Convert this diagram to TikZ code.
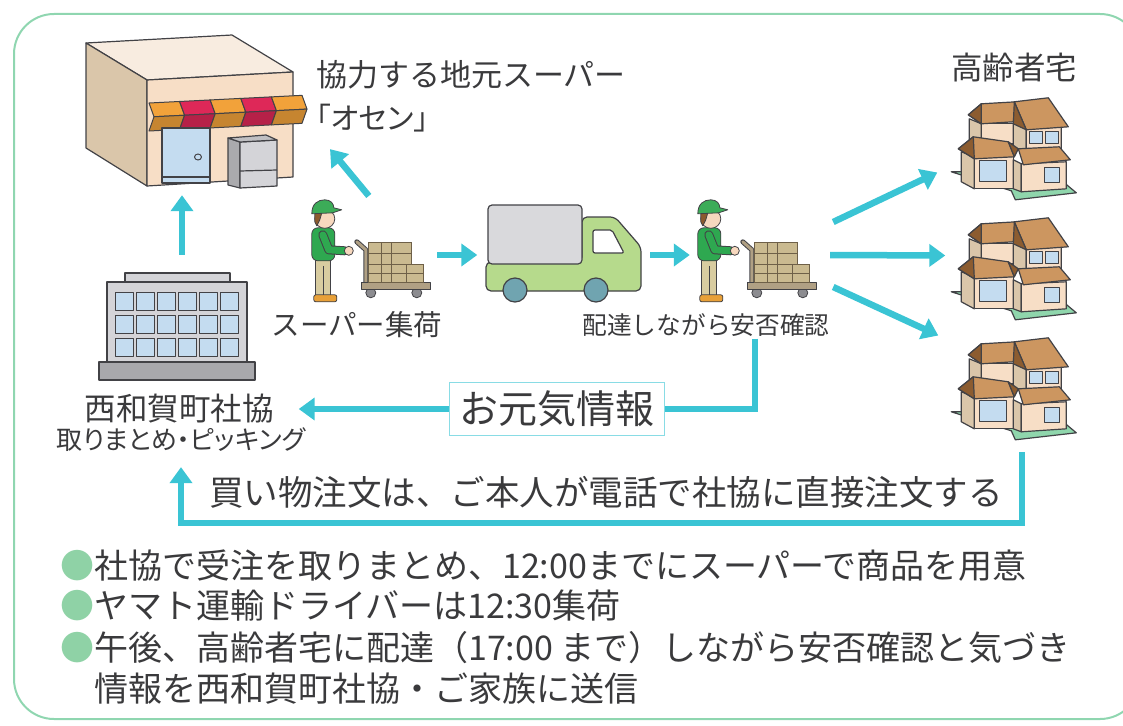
\documentclass[tikz,border=0pt]{standalone}
\usepackage{fontspec}
\setmainfont{Noto Sans CJK JP}
\newfontfamily\propjp{Noto Sans CJK JP}[RawFeature=+palt]
\usepackage{tikz}
\usetikzlibrary{arrows.meta}
\definecolor{Teal}{RGB}{58,196,212}
\definecolor{Mint}{RGB}{143,214,176}
\definecolor{Dot}{RGB}{143,210,166}
\definecolor{Ink}{RGB}{58,58,60}
\definecolor{Edge}{RGB}{66,66,70}
\definecolor{Peach}{RGB}{247,222,198}
\definecolor{Tan}{RGB}{218,198,170}
\definecolor{Cream}{RGB}{248,236,224}
\definecolor{Glass}{RGB}{196,220,240}
\definecolor{Roof}{RGB}{204,150,96}
\definecolor{RoofDark}{RGB}{140,92,48}
\definecolor{Lawn}{RGB}{143,214,172}
\definecolor{Shirt}{RGB}{46,168,80}
\definecolor{Cap}{RGB}{60,172,88}
\definecolor{Khaki}{RGB}{216,204,160}
\definecolor{Shoe}{RGB}{232,160,56}
\definecolor{Skin}{RGB}{247,216,190}
\definecolor{Hair}{RGB}{140,90,45}
\definecolor{Crate}{RGB}{202,186,144}
\definecolor{CrateLine}{RGB}{110,96,72}
\definecolor{Cart}{RGB}{176,160,132}
\definecolor{Wheel}{RGB}{140,140,144}
\definecolor{Cargo}{RGB}{217,217,220}
\definecolor{Lime}{RGB}{182,218,140}
\definecolor{Tyre}{RGB}{112,164,176}
\definecolor{Concrete}{RGB}{212,212,216}
\definecolor{Plinth}{RGB}{168,168,172}
\definecolor{AwnOrange}{RGB}{242,162,58}
\definecolor{AwnRed}{RGB}{222,40,88}

\tikzset{
  ink/.style={draw=Edge, line width=1.2pt, line join=round},
  % delivery staff pushing a loaded cart
  worker/.pic={
    \draw[Edge, line width=5pt, line cap=round, line join=round] (46,42) -- (55,50) -- (55,87);
    \draw[Cart, line width=3pt, line cap=round, line join=round] (46,42) -- (55,50) -- (55,87);
    \foreach \wx in {60,106}
      \filldraw[ink, line width=0.8pt, fill=Wheel] (\wx,93) circle (5);
    \filldraw[ink, line width=0.8pt, fill=Cart] (51,83) rectangle (120,90);
    \filldraw[draw=CrateLine, line width=0.8pt, fill=Crate] (58,43) rectangle (101,65);
    \filldraw[draw=CrateLine, line width=0.8pt, fill=Crate] (58,65) rectangle (113,83);
    \draw[CrateLine, line width=0.8pt] (71,43) -- (71,83) (81,43) -- (81,83) (96,65) -- (96,83)
      (58,54) -- (101,54) (58,74) -- (113,74);
    \filldraw[ink, line width=0.8pt, fill=Khaki] (5,58) rectangle (20,96);
    \draw[Edge, line width=0.8pt] (12.5,66) -- (12.5,96);
    \filldraw[ink, line width=0.8pt, fill=Shoe, rounded corners=2pt] (3,95) rectangle (26,102);
    \filldraw[ink, line width=0.8pt, fill=Shirt, rounded corners=6pt] (1,28) rectangle (24,61);
    \draw[Edge, line width=9pt, line cap=round, line join=round] (12,35) -- (18,50) -- (34,51);
    \draw[Shirt, line width=7pt, line cap=round, line join=round] (12,35) -- (18,50) -- (34,51);
    \filldraw[ink, line width=0.8pt, fill=Skin] (38,51) circle (4.5);
    \filldraw[ink, line width=0.8pt, fill=Skin] (14,19) ellipse (10 and 9.5);
    \filldraw[ink, line width=0.8pt, fill=Hair] (4,13) -- (11,13) -- (9,20) -- (6,26) -- (4,22) -- cycle;
    \filldraw[ink, line width=0.8pt, fill=Cap] (1,14) .. controls (1,4) and (7,0) .. (14,0)
      .. controls (20,0) and (23,4) .. (23,8) -- (31,10) -- (22,13) -- cycle;
  },
  % two-storey house on a lawn
  house/.pic={
    \filldraw[ink, fill=Lawn] (0,75) -- (60,94) -- (64,103) -- (125,96) -- (113,86) -- (60,74) -- cycle;
    \filldraw[ink, fill=Tan] (10,55) -- (23,60) -- (23,92) -- (10,85) -- cycle;
    \filldraw[ink, fill=Peach] (23,60) -- (62,60) -- (62,92) -- (23,92) -- cycle;
    \filldraw[ink, fill=Glass] (28,64) rectangle (55,85);
    \filldraw[ink, fill=Tan] (62,63) -- (70,67) -- (70,95) -- (62,92) -- cycle;
    \filldraw[ink, fill=Peach] (70,67) -- (115,65) -- (115,92) -- (70,95) -- cycle;
    \filldraw[ink, fill=Glass] (93,71) rectangle (108,86);
    \filldraw[ink, fill=Tan] (18,22) -- (30,27) -- (30,47) -- (18,43) -- cycle;
    \filldraw[ink, fill=Peach] (30,27) -- (62,27) -- (62,47) -- (30,47) -- cycle;
    \filldraw[ink, fill=Tan] (62,25) -- (75,32) -- (75,57) -- (62,50) -- cycle;
    \filldraw[ink, fill=Peach] (75,32) -- (110,30) -- (110,55) -- (75,57) -- cycle;
    \filldraw[ink, fill=Glass] (78,35) rectangle (91,47);
    \filldraw[ink, fill=Glass] (94,35) rectangle (107,47);
    \filldraw[ink, fill=Roof] (7,52) -- (22,40) -- (57,45) -- (63,60) -- (23,62) -- cycle;
    \filldraw[ink, fill=RoofDark] (7,52) -- (22,40) -- (23,62) -- cycle;
    \filldraw[ink, fill=RoofDark] (57,45) -- (67,52) -- (63,60) -- cycle;
    \filldraw[ink, fill=Roof] (67,52) -- (108,50) -- (119,63) -- (72,68) -- cycle;
    \filldraw[ink, fill=Roof] (17,18) -- (30,7) -- (65,5) -- (62,25) -- (30,27) -- cycle;
    \filldraw[ink, fill=RoofDark] (17,18) -- (30,7) -- (30,27) -- cycle;
    \filldraw[ink, fill=Roof] (63,5) -- (97,1) -- (117,30) -- (75,33) -- cycle;
    \filldraw[ink, fill=RoofDark] (63,5) -- (75,33) -- (62,27) -- cycle;
  }
}

\begin{document}
\begin{tikzpicture}[
  x=1pt, y=-1pt,
  spot/.style 2 args={inner sep=0pt, minimum width=#1, minimum height=#2},
  lbl/.style={text=Ink, inner sep=0pt},
  note/.style={text=Ink, inner sep=0pt, anchor=west, font=\fontsize{34}{38}\selectfont},
  flow/.style={draw=Teal, line width=6.5pt, -{Triangle[length=16pt,width=22pt]}},
  tag/.style={draw=Teal!60, line width=1.3pt, fill=white, text=Ink, inner xsep=10pt,
    minimum height=53pt, font=\fontsize{39}{44}\selectfont}
]
\useasboundingbox (0,0) rectangle (1123,725);
\draw[Mint, line width=2pt, rounded corners=40pt] (14,14) rectangle (1140,719);

% anchors for the connectors
\node[spot={216}{152}] (store) at (194,111) {};
\node[spot={160}{107}] (office) at (182,326.5) {};
\node[spot={122}{110}] (picker) at (372,255) {};
\node[spot={155}{96}] (truck) at (564,255) {};
\node[spot={122}{110}] (driver) at (758,255) {};
\node[spot={125}{103}] (h1) at (1014,148.5) {};
\node[spot={125}{103}] (h2) at (1014,268.5) {};
\node[spot={125}{103}] (h3) at (1014,388.5) {};

% supermarket
\filldraw[ink, fill=Cream] (86,43) -- (232,35) -- (293,72) -- (147,80) -- cycle;
\filldraw[ink, fill=Tan] (86,43) -- (147,80) -- (147,186) -- (86,148) -- cycle;
\filldraw[ink, fill=Peach] (147,80) -- (293,72) -- (293,177) -- (147,186) -- cycle;
\begin{scope}[shift={(149,0)}, yslant=0.05]
  \foreach \i/\c in {0/AwnOrange,1/AwnRed,2/AwnOrange,3/AwnRed,4/AwnOrange}{
    \filldraw[ink, line width=1pt, fill=\c] (30.6*\i,103) -- (30.6*\i+30.6,103)
      -- (30.6*\i+35.6,117) -- (30.6*\i+5,117) -- cycle;
    \filldraw[ink, line width=1pt, fill=\c!82!black] (30.6*\i+5,117) -- (30.6*\i+35.6,117)
      -- (30.6*\i+30.6,131) -- (30.6*\i,131) -- cycle;
  }
\end{scope}
\filldraw[ink, fill=Glass] (162,128) rectangle (210,183);
\draw[ink] (162,177) -- (210,177);
\filldraw[ink, line width=1pt, fill=Glass] (198,157) ellipse (3.5 and 3);
\filldraw[ink, fill=Concrete!80!black] (228,138) -- (240,142) -- (240,188) -- (228,185) -- cycle;
\filldraw[ink, fill=Concrete] (240,142) -- (277,140) -- (277,186) -- (240,188) -- cycle;
\filldraw[ink, fill=Concrete!90!black] (228,138) -- (266,135) -- (277,140) -- (240,142) -- cycle;
\draw[ink] (240,171) -- (277,170);

% council office
\filldraw[ink, fill=Concrete] (125,273) rectangle (230,282);
\filldraw[ink, fill=Concrete] (107,282) rectangle (247,362);
\filldraw[ink, fill=Plinth] (99,362) rectangle (255,380);
\foreach \c in {0,...,5}
  \foreach \r in {0,1,2}
    \filldraw[ink, line width=1pt, fill=Glass] (115+21*\c,292+23*\r) rectangle ++(18,18);

% truck
\filldraw[ink, fill=Lime, rounded corners=5pt] (486,262) -- (582,262) -- (582,217) -- (615,217)
  -- (641,247) -- (641,291) -- (486,291) -- cycle;
\filldraw[ink, fill=Cargo, rounded corners=4pt] (488,205) rectangle (582,264);
\filldraw[ink, fill=white, rounded corners=2pt] (593,230) -- (612,230) -- (624,253) -- (593,253) -- cycle;
\filldraw[ink, fill=Tyre] (515,290) circle (12);
\filldraw[ink, fill=Tyre] (596,290) circle (12);

% staff and homes
\pic at (picker.north west) {worker};
\pic at (driver.north west) {worker};
\foreach \h in {h1,h2,h3}
  \pic at (\h.north west) {house};

% labels
\node[lbl, anchor=west, font=\fontsize{31}{36}\selectfont] (super) at (316,75) {協力する地元スーパー};
\node[lbl, anchor=west, font=\propjp\fontsize{30}{36}\selectfont] (osen) at (316,118) {「オセン」};
\node[lbl, font=\fontsize{31.5}{36}\selectfont] (elder) at (1014,68) {高齢者宅};
\node[lbl, font=\fontsize{28.5}{34}\selectfont] (pickup) at (357,325) {スーパー集荷};
\node[lbl, font=\fontsize{24.7}{30}\selectfont] (dlabel) at (706,325) {配達しながら安否確認};
\node[lbl, font=\fontsize{31.5}{36}\selectfont] (council) at (179,409) {西和賀町社協};
\node[lbl, font=\propjp\fontsize{26}{32}\selectfont] (picking) at (181,440) {取りまとめ・ピッキング};
\node[lbl, font=\fontsize{34.5}{40}\selectfont] (order) at (606,492) {買い物注文は、ご本人が電話で社協に直接注文する};

% flow of goods and information
\draw[flow, shorten <=18pt, shorten >=8pt] (office.north) -- (office.north |- store.south);
\draw[flow, shorten <=5pt, shorten >=22pt] (picker.north) -- (osen.south west);
\draw[flow, shorten <=4pt, shorten >=9pt] (picker.east) -- (truck.west);
\draw[flow, shorten <=8.5pt, shorten >=7pt] (truck.east) -- (driver.west);
\draw[flow] ([shift={(14,-33)}]driver.east) -- ([shift={(-14,24)}]h1.west);
\draw[flow] ([shift={(11,0)}]driver.east) -- ([shift={(-6,-13)}]h2.west);
\draw[flow] ([shift={(14,32)}]driver.east) -- ([shift={(-13,-53)}]h3.west);
\draw[flow, shorten >=25pt] ([shift={(49,2)}]dlabel.south) |- node[tag, pos=0.706]{お元気情報} (council.east);
\draw[flow, shorten >=15pt] ([shift={(8,12)}]h3.south) -- ++(0,71) -| (picking.south);

% notes
\node[note] (n1) at (60,566) {\textcolor{Dot}{●}社協で受注を取りまとめ、12:00までにスーパーで商品を用意};
\node[note] (n2) at (60,606) {\textcolor{Dot}{●}ヤマト運輸ドライバーは12:30集荷};
\node[note] (n3) at (60,648) {\textcolor{Dot}{●}午後、高齢者宅に配達（17:00 まで）しながら安否確認と気づき};
\node[note] (n4) at (60,689) {\phantom{●}情報を西和賀町社協・ご家族に送信};
\end{tikzpicture}
\end{document}
